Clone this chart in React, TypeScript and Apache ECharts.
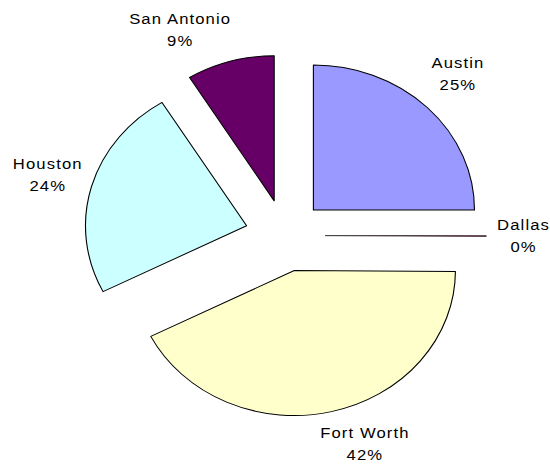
import React, { useEffect, useRef } from 'react';
import * as echarts from 'echarts';

// ---- data ----
const categories = ['Austin', 'Dallas', 'Fort Worth', 'Houston', 'San Antonio'];
const shares = [25.0, 0.1, 42.4, 23.7, 8.8];

// ---- styling ----
const sliceColors = ['#9999FF', '#993366', '#FFFFCC', '#CCFFFF', '#660066'];
const sliceBorders = [1, 0.5, 1, 1, 1];
// label placement (hidden label-line lengths drive where each label sits)
const labelLen = [48, 33.6, 33.3, 44, 32.8];
const labelLen2 = [-11.4, -5, 17.4, -8, 31.1];

const SCALE_X = 1.1111;
const BASE_W = 495;
const BASE_H = 464;

export default function App() {
  const ref = useRef<HTMLDivElement>(null);

  useEffect(() => {
    if (!ref.current) return;
    const chart = echarts.init(ref.current, null, { renderer: 'svg' });
    chart.setOption({
      animation: false,
      backgroundColor: '#ffffff',
      series: [
        {
          type: 'pie',
          center: [256.6, 235.5],
          radius: 145,
          startAngle: 90,
          clockwise: true,
          selectedMode: 'multiple',
          selectedOffset: 36,
          avoidLabelOverlap: false,
          silent: true,
          percentPrecision: 0,
          itemStyle: { borderColor: '#000000', borderWidth: 1 },
          select: {
            label: { color: '#000000' },
          },
          emphasis: { disabled: true },
          label: {
            show: true,
            position: 'outside',
            formatter: '{b}\n{d}%',
            fontFamily: "'Liberation Sans', Arial, sans-serif",
            fontSize: 15,
            lineHeight: 22,
            color: '#000000',
            overflow: 'none',
          },
          labelLine: { show: false },
          labelLayout: () => ({ align: 'center', verticalAlign: 'middle' }),
          data: categories.map((name, i) => ({
            name,
            value: shares[i],
            selected: true,
            itemStyle: { color: sliceColors[i], borderColor: '#000000', borderWidth: sliceBorders[i] },
            select: { itemStyle: { color: sliceColors[i], borderColor: '#000000', borderWidth: sliceBorders[i] } },
            labelLine: { show: false, length: labelLen[i], length2: labelLen2[i] },
          })),
        },
      ],
    });
    return () => chart.dispose();
  }, []);

  return (
    <div
      ref={ref}
      style={{
        position: 'absolute',
        left: 0,
        top: 0,
        width: BASE_W,
        height: BASE_H,
        transform: `scaleX(${SCALE_X})`,
        transformOrigin: '0 0',
        letterSpacing: '1px',
        background: '#ffffff',
      }}
    />
  );
}
